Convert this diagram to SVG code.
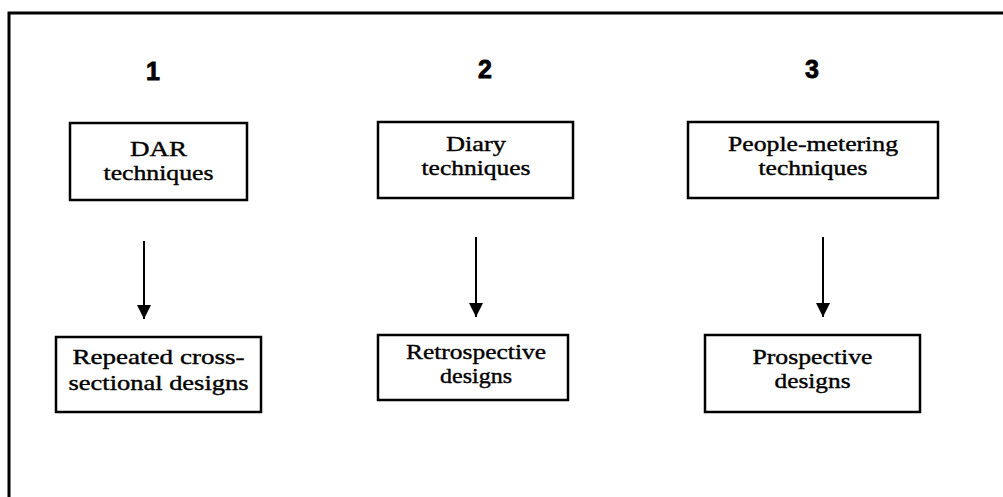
<svg xmlns="http://www.w3.org/2000/svg" width="1003" height="497" viewBox="0 0 1003 497">
<defs>
<style>
.frame{fill:none;stroke:#000;stroke-width:3}
.box{fill:#fff;stroke:#000;stroke-width:2.5}
.t{font-family:"Liberation Serif","Times New Roman",serif;font-size:22px;fill:#000;stroke:#000;stroke-width:0.4;text-anchor:middle}
.n{font-family:"Liberation Sans",Arial,sans-serif;font-size:25px;font-weight:bold;fill:#000;stroke:#000;stroke-width:0.8;text-anchor:middle}
.conn{stroke:#000;stroke-width:2;fill:none}
</style>
<marker id="ah" markerWidth="14" markerHeight="15" refX="14" refY="7" orient="auto" markerUnits="userSpaceOnUse">
<path d="M0,0 L14,7 L0,14 Z" fill="#000"/>
</marker>
</defs>
<rect width="1003" height="497" fill="#fff"/>
<rect class="frame" x="9" y="13" width="1010" height="500"/>
<g id="labels">
<text class="n" x="153" y="80">1</text>
<text class="n" x="485" y="78">2</text>
<text class="n" x="812" y="78">3</text>
</g>
<g id="node-dar">
<rect class="box" x="70" y="123" width="177" height="77"/>
<text class="t" x="158.5" y="156" textLength="57" lengthAdjust="spacingAndGlyphs">DAR</text>
<text class="t" x="158.5" y="180" textLength="110" lengthAdjust="spacingAndGlyphs">techniques</text>
</g>
<g id="node-diary">
<rect class="box" x="378" y="122" width="195" height="76"/>
<text class="t" x="476" y="151" textLength="60" lengthAdjust="spacingAndGlyphs">Diary</text>
<text class="t" x="476" y="175" textLength="109" lengthAdjust="spacingAndGlyphs">techniques</text>
</g>
<g id="node-people">
<rect class="box" x="688" y="122" width="250" height="76"/>
<text class="t" x="813" y="151" textLength="170" lengthAdjust="spacingAndGlyphs">People-metering</text>
<text class="t" x="813" y="175" textLength="109" lengthAdjust="spacingAndGlyphs">techniques</text>
</g>
<g id="node-repeated">
<rect class="box" x="56" y="337" width="205" height="75"/>
<text class="t" x="158.5" y="364" textLength="172" lengthAdjust="spacingAndGlyphs">Repeated cross-</text>
<text class="t" x="158.5" y="390" textLength="180" lengthAdjust="spacingAndGlyphs">sectional designs</text>
</g>
<g id="node-retro">
<rect class="box" x="378" y="335" width="190" height="65"/>
<text class="t" x="476" y="359" textLength="140" lengthAdjust="spacingAndGlyphs">Retrospective</text>
<text class="t" x="476" y="383" textLength="72" lengthAdjust="spacingAndGlyphs">designs</text>
</g>
<g id="node-prosp">
<rect class="box" x="705" y="335" width="215" height="77"/>
<text class="t" x="812.5" y="364" textLength="120" lengthAdjust="spacingAndGlyphs">Prospective</text>
<text class="t" x="812.5" y="388" textLength="76" lengthAdjust="spacingAndGlyphs">designs</text>
</g>
<g id="connectors">
<line class="conn" x1="144" y1="241" x2="144" y2="319" marker-end="url(#ah)"/>
<line class="conn" x1="476" y1="237" x2="476" y2="317" marker-end="url(#ah)"/>
<line class="conn" x1="823" y1="237" x2="823" y2="317" marker-end="url(#ah)"/>
</g>
</svg>
